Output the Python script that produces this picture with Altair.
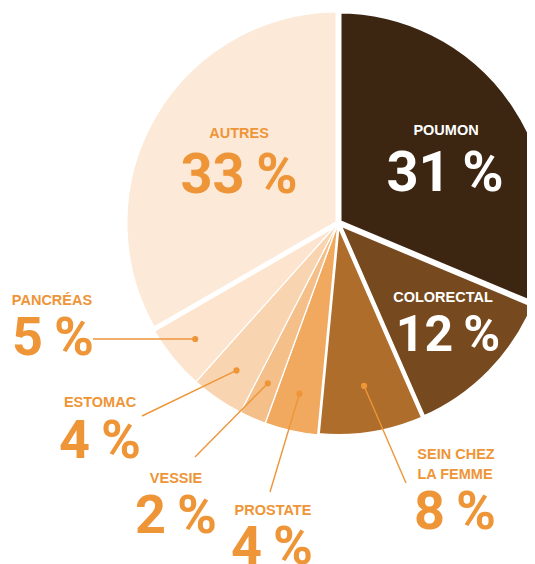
import math
import altair as alt
import pandas as pd

# ---- data ----
categories = ["POUMON", "COLORECTAL", "SEIN CHEZ LA FEMME", "PROSTATE",
              "VESSIE", "ESTOMAC", "PANCRÉAS", "AUTRES"]
values = [31, 12, 8, 4, 2, 4, 5, 33]
pct_labels = ["31 %", "12 %", "8 %", "4 %", "2 %", "4 %", "5 %", "33 %"]
colors = ["#3C2612", "#764A1E", "#AE6D2B", "#F0A95E",
          "#F4BF89", "#F8D5B0", "#FDE4CE", "#FCE9D8"]

# ---- layout / style ----
CX, CY, R = 330, 215, 213
stroke_widths = [7, 5, 4, 1.5, 1.2, 1.2, 1.2, 5]
ORANGE = "#EE9538"
NAME_FONT = "Liberation Sans, Arial, sans-serif"
NUM_FONT = "Roboto, Liberation Sans, sans-serif"

df = pd.DataFrame({
    "cat": categories,
    "value": values,
    "order": list(range(len(categories))),
    "sw": stroke_widths,
})

pie = alt.Chart(df).mark_arc(outerRadius=R, stroke="white").encode(
    theta=alt.Theta("value:Q", stack=True),
    order=alt.Order("order:Q"),
    color=alt.Color("cat:N", scale=alt.Scale(domain=categories, range=colors), legend=None),
    strokeWidth=alt.StrokeWidth("sw:Q", scale=None),
    x=alt.value(CX),
    y=alt.value(CY),
)

# leader lines: dots at slice mid-angles
total = sum(values)
cum = 0
mids = {}
for c, v in zip(categories, values):
    mids[c] = (cum + v / 2) / total * 2 * math.pi
    cum += v

leader_cats = ["SEIN CHEZ LA FEMME", "PROSTATE", "VESSIE", "ESTOMAC", "PANCRÉAS"]
dot_radius = [165, 175, 175, 179, 184]
line_end_x = [398, 262, 187, 134, 85]
line_end_y = [475, 484, 449, 408, None]

rows = []
for c, rr, ex, ey in zip(leader_cats, dot_radius, line_end_x, line_end_y):
    a = mids[c]
    dx = CX + rr * math.sin(a)
    dy = CY - rr * math.cos(a)
    rows.append({"cat": c, "x": dx, "y": dy, "x2": ex, "y2": dy if ey is None else ey})
lines_df = pd.DataFrame(rows)

lines = alt.Chart(lines_df).mark_rule(color=ORANGE, strokeWidth=1.4).encode(
    x=alt.X("x:Q", scale=None), y=alt.Y("y:Q", scale=None),
    x2="x2:Q", y2="y2:Q",
)
dots = alt.Chart(lines_df).mark_circle(color=ORANGE, opacity=1, size=38).encode(
    x=alt.X("x:Q", scale=None), y=alt.Y("y:Q", scale=None),
)

# text labels
name_rows = [
    ("POUMON", 438, 127, "white"),
    ("AUTRES", 231, 130, ORANGE),
    ("COLORECTAL", 435, 294, "white"),
    ("PANCRÉAS", 44, 297, ORANGE),
    ("ESTOMAC", 92, 399, ORANGE),
    ("VESSIE", 168, 475, ORANGE),
    ("PROSTATE", 265, 507, ORANGE),
    ("SEIN CHEZ", 448, 451, ORANGE),
    ("LA FEMME", 447, 471, ORANGE),
]
names_df = pd.DataFrame(name_rows, columns=["t", "x", "y", "c"])
names = alt.Chart(names_df).mark_text(
    font=NAME_FONT, fontWeight="bold", fontSize=14.5, align="center", baseline="alphabetic"
).encode(
    x=alt.X("x:Q", scale=None), y=alt.Y("y:Q", scale=None),
    text="t:N", color=alt.Color("c:N", scale=None),
)

num_pos = {
    "POUMON": (437, 183, 56, "white"),
    "AUTRES": (231, 185, 56, ORANGE),
    "COLORECTAL": (440, 343, 50, "white"),
    "PANCRÉAS": (45, 347, 54, ORANGE),
    "ESTOMAC": (92, 450, 54, ORANGE),
    "VESSIE": (168, 525, 54, ORANGE),
    "PROSTATE": (264, 556, 54, ORANGE),
    "SEIN CHEZ LA FEMME": (447, 521, 54, ORANGE),
}
num_rows = []
for c, lab in zip(categories, pct_labels):
    x, y, s, col = num_pos[c]
    num_rows.append({"t": lab.replace(" ", "\u2009"), "x": x, "y": y, "s": s, "c": col})
nums_df = pd.DataFrame(num_rows)
nums = alt.Chart(nums_df).mark_text(
    font=NUM_FONT, fontWeight="bold", align="center", baseline="alphabetic"
).encode(
    x=alt.X("x:Q", scale=None), y=alt.Y("y:Q", scale=None),
    text="t:N", color=alt.Color("c:N", scale=None),
    size=alt.Size("s:Q", scale=None),
)

chart = alt.layer(pie, lines, dots, names, nums).properties(
    width=519, height=556, autosize="none", padding=0
).configure_view(stroke=None)

chart.save("out.html", embed_options={"renderer": "svg", "actions": False})
